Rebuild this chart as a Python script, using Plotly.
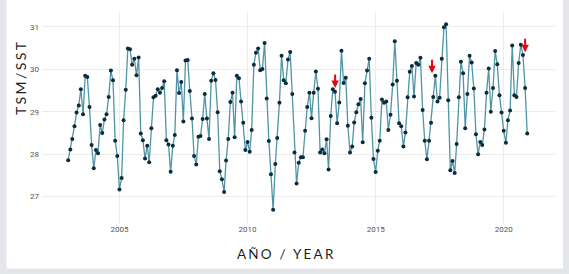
import pandas as pd
import plotly.graph_objects as go

# Monthly SST (°C), Jan..Dec for each year
sst_2003 = [27.86, 28.11, 28.36, 28.66, 28.98, 29.15, 29.53, 28.94, 29.85, 29.82, 29.11, 28.22]
sst_2004 = [27.67, 28.10, 28.02, 28.69, 28.50, 28.82, 28.94, 29.35, 29.97, 29.74, 28.32, 27.96]
sst_2005 = [27.17, 27.44, 28.80, 29.52, 30.49, 30.47, 30.11, 30.25, 29.86, 30.28, 28.49, 28.33]
sst_2006 = [27.90, 28.20, 27.81, 28.61, 29.34, 29.38, 29.53, 29.45, 29.56, 29.72, 28.33, 28.23]
sst_2007 = [27.59, 28.20, 28.45, 29.98, 29.44, 29.70, 28.77, 30.21, 30.22, 29.49, 28.84, 27.96]
sst_2008 = [27.76, 28.41, 28.43, 28.83, 29.42, 28.84, 28.36, 29.73, 29.91, 29.75, 28.99, 27.60]
sst_2009 = [27.41, 27.11, 27.85, 28.36, 29.23, 29.45, 28.40, 29.85, 29.79, 29.24, 28.74, 28.10]
sst_2010 = [28.29, 28.06, 28.57, 30.11, 30.39, 30.49, 29.98, 30.01, 30.62, 29.31, 28.31, 27.53]
sst_2011 = [26.69, 27.77, 28.38, 29.21, 30.32, 29.74, 29.67, 30.23, 30.41, 29.42, 28.04, 27.31]
sst_2012 = [27.80, 27.93, 27.93, 28.55, 29.11, 29.45, 28.85, 29.45, 29.95, 29.54, 28.04, 28.11]
sst_2013 = [28.02, 28.35, 27.64, 28.90, 29.53, 29.47, 28.73, 29.22, 30.44, 29.68, 29.80, 28.67]
sst_2014 = [28.04, 28.18, 28.75, 28.99, 29.18, 29.30, 28.28, 29.67, 29.97, 30.25, 28.86, 27.89]
sst_2015 = [27.58, 28.08, 28.32, 29.29, 29.21, 29.24, 28.57, 28.93, 29.64, 30.66, 29.73, 28.73]
sst_2016 = [28.66, 28.18, 28.51, 29.34, 29.94, 30.08, 29.36, 30.15, 30.11, 30.27, 29.04, 28.32]
sst_2017 = [27.88, 28.32, 28.74, 29.35, 29.85, 29.24, 29.33, 30.25, 30.99, 31.06, 29.27, 27.62]
sst_2018 = [27.84, 27.56, 28.24, 29.34, 30.18, 29.91, 28.61, 29.42, 30.32, 30.16, 29.55, 28.47]
sst_2019 = [28.00, 28.29, 28.22, 28.58, 29.45, 30.02, 29.00, 29.56, 30.43, 30.12, 29.39, 28.98]
sst_2020 = [28.55, 28.27, 28.80, 29.03, 30.56, 29.39, 29.35, 30.15, 30.58, 30.34, 29.56, 28.49]

years = [sst_2003, sst_2004, sst_2005, sst_2006, sst_2007, sst_2008, sst_2009, sst_2010, sst_2011,
         sst_2012, sst_2013, sst_2014, sst_2015, sst_2016, sst_2017, sst_2018, sst_2019, sst_2020]
sst = [v for yr in years for v in yr]
dates = pd.date_range("2003-01-01", periods=len(sst), freq="MS")

# highlighted events (red arrows)
arrow_dates = ["2013-06-03", "2017-03-15", "2020-11-01"]
arrow_vals = [29.56, 29.91, 30.40]

x_tick_vals = ["2005-01-01", "2010-01-01", "2015-01-01", "2020-01-01"]
x_tick_text = ["2005", "2010", "2015", "2020"]
y_tick_vals = [27, 28, 29, 30, 31]

fig = go.Figure()
fig.add_trace(go.Scatter(
    x=dates, y=sst, mode="lines+markers",
    line=dict(color="#4f95a6", width=1.3),
    marker=dict(color="#0c2b3b", size=4),
    showlegend=False,
))

L, R, T, B = 42, 14, 12, 51
W, H = 569, 274
pw, ph = W - L - R, H - T - B

annotations = []
for d, v in zip(arrow_dates, arrow_vals):
    annotations.append(dict(
        x=d, y=v, xref="x", yref="y", text="", showarrow=True,
        arrowhead=2, arrowsize=0.75, arrowwidth=2, arrowcolor="#e30613",
        ax=0, ay=-15,
    ))

annotations.append(dict(
    text='<span style="letter-spacing:2.2px">AÑO / YEAR</span>',
    x=(286 - L) / pw, y=(H - B - 254) / ph, xref="paper", yref="paper",
    showarrow=False, xanchor="center", yanchor="middle",
    font=dict(family="Lato, Open Sans, sans-serif", size=13.5, color="#1e1e1e"),
))
annotations.append(dict(
    text='<span style="letter-spacing:2.4px">TSM/SST</span>',
    x=(20 - L) / pw, y=(H - B - 78) / ph, xref="paper", yref="paper",
    showarrow=False, textangle=-90, xanchor="center", yanchor="middle",
    font=dict(family="Lato, Open Sans, sans-serif", size=14, color="#1e1e1e"),
))

fig.update_layout(
    width=W, height=H,
    margin=dict(l=L, r=R, t=T, b=B),
    paper_bgcolor="#e4e6e9",
    plot_bgcolor="rgba(0,0,0,0)",
    shapes=[dict(
        type="rect", xref="paper", yref="paper", layer="below",
        x0=(6.5 - L) / pw, x1=(563 - L) / pw,
        y0=(H - B - 268.5) / ph, y1=(H - B + 5) / ph,
        fillcolor="white", line=dict(width=0),
    )],
    annotations=annotations,
    xaxis=dict(
        type="date", range=["2001-12-24", "2022-01-01"],
        tickvals=x_tick_vals, ticktext=x_tick_text,
        showgrid=True, gridcolor="#ececec", gridwidth=1,
        zeroline=False, showline=False, ticks="",
        tickfont=dict(family="Liberation Sans Narrow, Roboto, sans-serif", size=8, color="#555555"),
        ticklabelstandoff=0,
    ),
    yaxis=dict(
        range=[26.38, 31.35],
        tickvals=y_tick_vals,
        showgrid=True, gridcolor="#ececec", gridwidth=1,
        zeroline=False, showline=False, ticks="",
        tickfont=dict(family="Liberation Sans Narrow, Roboto, sans-serif", size=8, color="#555555"),
        ticklabelstandoff=2,
    ),
)

fig.write_html(
    "out.html",
    config={"displayModeBar": False},
    post_script="document.body.style.margin='0';document.body.style.padding='0';",
)
